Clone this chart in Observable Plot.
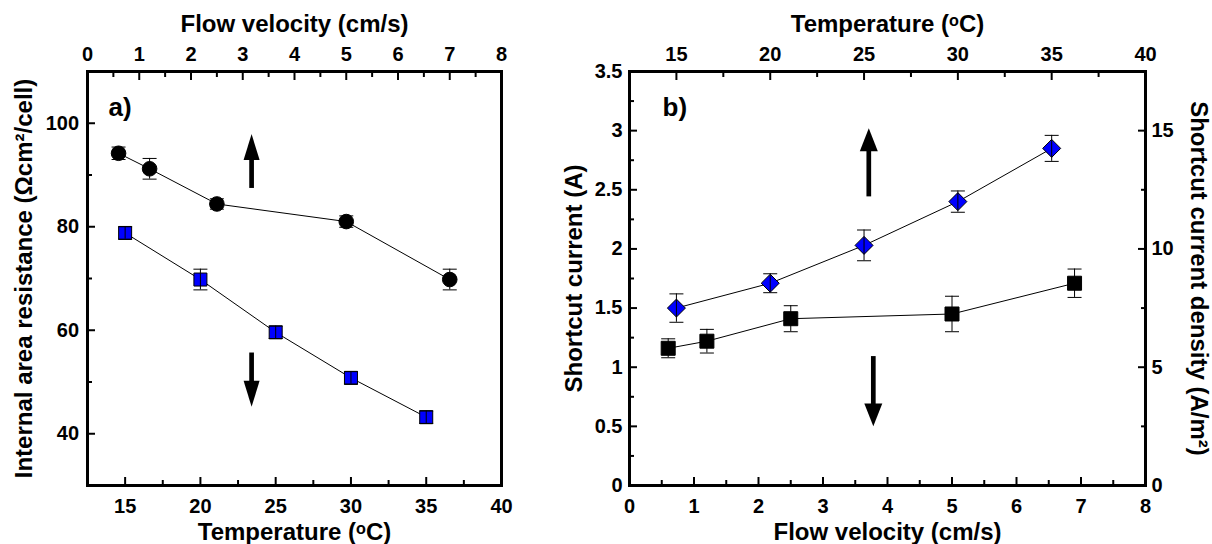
<!DOCTYPE html>
<html><head><meta charset="utf-8">
<script src="https://cdn.jsdelivr.net/npm/d3@7"></script>
<script src="https://cdn.jsdelivr.net/npm/@observablehq/plot@0.6"></script>
<style>
body{margin:0;background:#fff}
#wrap{position:relative;width:1212px;height:544px;overflow:hidden;background:#fff}
#wrap svg{position:absolute;left:0;top:0}
</style></head><body><div id="wrap"></div>
<script>
// ---------- Panel a data ----------
const flowA = [0.6, 1.2, 2.5, 5.0, 7.0];          // cm/s (top axis)
const resFlow = [94.2, 91.2, 84.4, 81.0, 69.8];   // Ωcm²/cell
const resFlowErr = [1.2, 2.0, 1.0, 1.1, 2.0];
const tempA = [15, 20, 25, 30, 35];               // °C (bottom axis)
const resTemp = [78.8, 69.8, 59.6, 50.8, 43.2];
const resTempErr = [1.2, 2.0, 1.2, 1.2, 1.2];
// ---------- Panel b data ----------
const flowB = [0.6, 1.2, 2.5, 5.0, 6.9];          // cm/s (bottom axis)
const curFlow = [1.16, 1.22, 1.41, 1.45, 1.71];   // A
const curFlowErr = [0.08, 0.10, 0.11, 0.15, 0.12];
const tempB = [15, 20, 25, 30, 35];               // °C (top axis)
const curTemp = [1.50, 1.71, 2.03, 2.40, 2.85];   // A
const curTempErr = [0.12, 0.08, 0.13, 0.09, 0.11];
// ---------- Axes ----------
const tempDomain = [12.5, 40];
const flowDomain = [0, 8];
const resDomain = [30, 110];
const curDomain = [0, 3.5];
const densDomain = [0, 17.5];
const tempTicks = [15, 20, 25, 30, 35, 40];
const tempMinor = [17.5, 22.5, 27.5, 32.5, 37.5];
const flowTicks = [0, 1, 2, 3, 4, 5, 6, 7, 8];
const flowMinor = [0.5, 1.5, 2.5, 3.5, 4.5, 5.5, 6.5, 7.5];
const resTicks = [40, 60, 80, 100];
const resMinor = [50, 70, 90];
const curTicks = [0, 0.5, 1, 1.5, 2, 2.5, 3, 3.5];
const curMinor = [0.25, 0.75, 1.25, 1.75, 2.25, 2.75, 3.25];
const densTicks = [0, 5, 10, 15];
const densMinor = [2.5, 7.5, 12.5];
// ---------- Annotation arrows (data coordinates) ----------
const arrowsA = [ // x in °C, values in Ωcm²/cell
  {x: 23.4, tail: 87.4, base: 93.6, tip: 97.9, rot: 0},
  {x: 23.4, tail: 55.6, base: 49.6, tip: 45.2, rot: 180}
];
const arrowsB = [ // x in cm/s, values in A
  {x: 3.71, tail: 2.44, base: 2.86, tip: 3.02, rot: 0},
  {x: 3.78, tail: 1.09, base: 0.66, tip: 0.50, rot: 180}
];

const titleTemp = "Temperature (\u1D52C)";
const titleFlow = "Flow velocity (cm/s)";

const W = 1212, H = 544;
const FONT = "'Liberation Sans', Arial, sans-serif";
const wrap = document.getElementById("wrap");

const rows = (xs, ys, es) => xs.map((x, i) => ({x, y: ys[i], e: es[i]}));
const r2 = s => Math.sqrt(s / Math.PI);
const sqSym = {draw(c, s) { const r = r2(s); c.rect(-r, -r, 2 * r, 2 * r); }};
const diaSym = {draw(c, s) { const r = r2(s); c.moveTo(0, -r); c.lineTo(r, 0); c.lineTo(0, r); c.lineTo(-r, 0); c.closePath(); }};
const capSym = {draw(c, s) { const r = r2(s); c.moveTo(-r, 0); c.lineTo(r, 0); }};
const headSym = k => ({draw(c, s) { const r = r2(s); c.moveTo(0, 0); c.lineTo(r, k * r); c.lineTo(-r, k * r); c.closePath(); }});

function series(data, sym, r, fill) {
  return [
    Plot.line(data, {x: "x", y: "y", stroke: "black", strokeWidth: 1}),
    Plot.dot(data, {x: "x", y: "y", symbol: sym, r, fill, stroke: "black", strokeWidth: 1}),
    Plot.ruleX(data, {x: "x", y1: d => d.y - d.e, y2: d => d.y + d.e, stroke: "black", strokeWidth: 1}),
    Plot.dot(data, {x: "x", y: d => d.y + d.e, symbol: capSym, r: 7, fill: "none", stroke: "black", strokeWidth: 1}),
    Plot.dot(data, {x: "x", y: d => d.y - d.e, symbol: capSym, r: 7, fill: "none", stroke: "black", strokeWidth: 1})
  ];
}
function arrows(data, r, k) {
  return [
    Plot.ruleX(data, {x: "x", y1: "tail", y2: "base", stroke: "black", strokeWidth: 4.7}),
    Plot.dot(data, {x: "x", y: "tip", symbol: headSym(k), r, fill: "black", stroke: "none", rotate: "rot"})
  ];
}
const fmt = d => String(d);
const tickOpts = {fontSize: 20, fontWeight: "bold", label: null, strokeWidth: 2};
const axX = (anchor, ticks, minor, pad) => [
  Plot.axisX(ticks, {anchor, tickSize: -8, tickPadding: pad + 8, tickFormat: fmt, ...tickOpts}),
  Plot.axisX(minor, {anchor, tickSize: -5, tickFormat: () => "", ...tickOpts})
];
const axY = (anchor, ticks, minor, pad) => [
  Plot.axisY(ticks, {anchor, tickSize: -8, tickPadding: pad + 8, tickFormat: fmt, ...tickOpts}),
  Plot.axisY(minor, {anchor, tickSize: -5, tickFormat: () => "", ...tickOpts})
];
const title = (t, o) => Plot.text([t], {text: d => d, fontSize: 24, fontWeight: "bold", lineAnchor: "middle", textAnchor: "middle", ...o});

function mk(opts) {
  const svg = Plot.plot({
    width: W, height: H, marginTop: 71, marginBottom: 59,
    style: {background: "transparent", fontFamily: FONT, color: "black", overflow: "visible"},
    ...opts
  });
  wrap.append(svg);
}

// ===== Panel a (base: temperature x) =====
mk({
  marginLeft: 87, marginRight: W - 501,
  x: {domain: tempDomain, axis: null, label: null},
  y: {domain: resDomain, axis: null, label: null},
  marks: [
    ...axX("bottom", tempTicks, tempMinor, 13.3),
    ...axY("left", resTicks, resMinor, 8.4),
    ...series(rows(tempA, resTemp, resTempErr), sqSym, 6.5, "#0000ff"),
    ...arrows(arrowsA, 8, 3.25),
    Plot.text(["a)"], {text: d => d, frameAnchor: "top-left", dx: 21, dy: 26, textAnchor: "start", lineAnchor: "top", fontSize: 26, fontWeight: "bold"}),
    title(titleTemp, {frameAnchor: "bottom", dy: 47.3}),
    title("Internal area resistance (\u03A9cm\u00B2/cell)", {frameAnchor: "left", dx: -63, rotate: -90}),
    Plot.frame({stroke: "black", strokeWidth: 3})
  ]
});
// ===== Panel a (overlay: flow velocity x) =====
mk({
  marginLeft: 87, marginRight: W - 501,
  x: {domain: flowDomain, axis: null, label: null},
  y: {domain: resDomain, axis: null, label: null},
  marks: [
    ...axX("top", flowTicks, flowMinor, 11),
    ...series(rows(flowA, resFlow, resFlowErr), "circle", 7.3, "black"),
    title(titleFlow, {frameAnchor: "top", dy: -46.7})
  ]
});
// ===== Panel b (base: flow velocity x) =====
mk({
  marginLeft: 629, marginRight: W - 1145,
  x: {domain: flowDomain, axis: null, label: null},
  y: {domain: curDomain, axis: null, label: null},
  marks: [
    ...axX("bottom", flowTicks, flowMinor, 13.3),
    ...axY("left", curTicks, curMinor, 7),
    ...series(rows(flowB, curFlow, curFlowErr), sqSym, 7, "black"),
    ...arrows(arrowsB, 9, 2.55),
    Plot.text(["b)"], {text: d => d, frameAnchor: "top-left", dx: 33, dy: 26, textAnchor: "start", lineAnchor: "top", fontSize: 26, fontWeight: "bold"}),
    title(titleFlow, {frameAnchor: "bottom", dy: 47.3}),
    title("Shortcut current (A)", {frameAnchor: "left", dx: -55, rotate: -90}),
    Plot.frame({stroke: "black", strokeWidth: 3})
  ]
});
// ===== Panel b (overlay: temperature x) =====
mk({
  marginLeft: 629, marginRight: W - 1145,
  x: {domain: tempDomain, axis: null, label: null},
  y: {domain: curDomain, axis: null, label: null},
  marks: [
    ...axX("top", tempTicks, tempMinor, 11),
    ...series(rows(tempB, curTemp, curTempErr), diaSym, 9, "#0000ff"),
    title(titleTemp, {frameAnchor: "top", dy: -46.7})
  ]
});
// ===== Panel b (overlay: right axis, current density) =====
mk({
  marginLeft: 629, marginRight: W - 1145,
  y: {domain: densDomain, axis: null, label: null},
  marks: [
    ...axY("right", densTicks, densMinor, 6),
    title("Shortcut current density (A/m\u00B2)", {frameAnchor: "right", dx: 53, rotate: 90})
  ]
});
</script></body></html>
